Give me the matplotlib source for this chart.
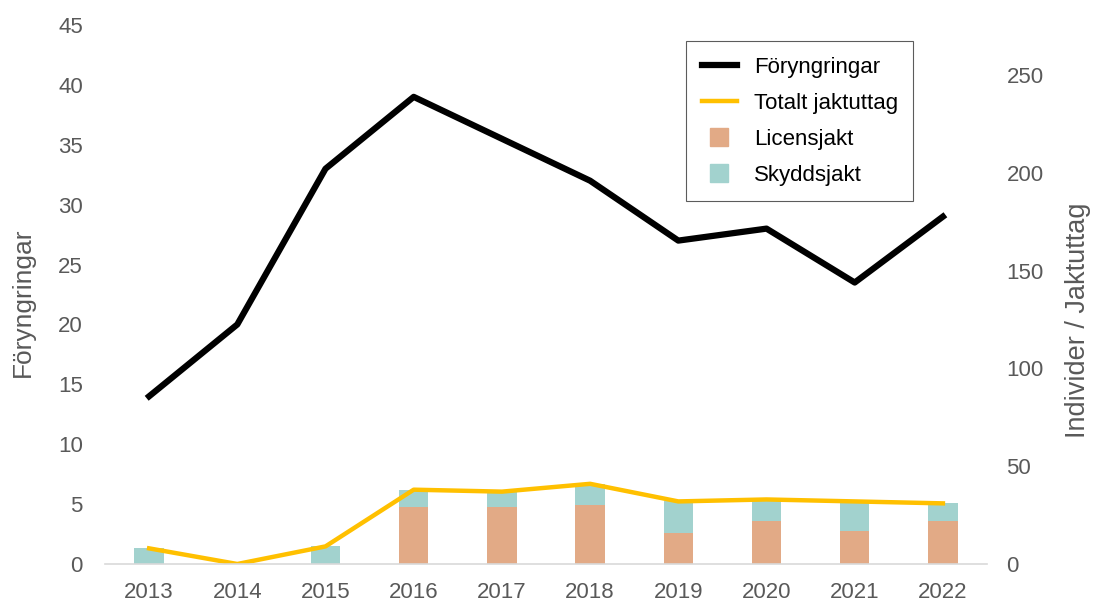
import numpy as np
import matplotlib.pyplot as plt
from matplotlib.lines import Line2D

plt.rcParams["font.family"] = ["Liberation Sans", "DejaVu Sans"]

years = ["2013", "2014", "2015", "2016", "2017", "2018", "2019", "2020", "2021", "2022"]
foryngringar = [14, 20, 33, 39, 35.5, 32, 27, 28, 23.5, 29]
totalt_jaktuttag = [8, 0, 9, 38, 37, 41, 32, 33, 32, 31]
licensjakt = [0, 0, 0, 29, 29, 30, 16, 22, 17, 22]
skyddsjakt = [8, 0, 9, 9, 8, 11, 16, 11, 15, 9]

GREY = "#595959"
BLACK = "#000000"
YELLOW = "#FFC000"
LICENS = "#E2AA86"
SKYDD = "#A2D2CE"

W, H = 1093, 603
fig = plt.figure(figsize=(W / 100, H / 100), dpi=100)
ax = fig.add_axes([105 / W, 1 - 564 / H, 882 / W, 539 / H])
ax2 = ax.twinx()

x = np.arange(len(years))

# ── Bars and total on the right axis ─────────────────────────────────────
ax2.bar(x, licensjakt, width=0.333, color=LICENS, zorder=1)
ax2.bar(x, skyddsjakt, width=0.333, bottom=licensjakt, color=SKYDD, zorder=1)
ax2.plot(x, totalt_jaktuttag, color=YELLOW, linewidth=3.2, zorder=3)

# ── Föryngringar on the left axis, drawn on top ──────────────────────────
ax.plot(x, foryngringar, color=BLACK, linewidth=4.5, zorder=4)
ax.set_zorder(ax2.get_zorder() + 1)
ax.patch.set_visible(False)

ax.set_xlim(-0.5, len(years) - 0.5)
ax.set_ylim(0, 45)
ax.set_yticks(np.arange(0, 46, 5))
ax2.set_ylim(0, 275.6)
ax2.set_yticks(np.arange(0, 251, 50))
ax.set_xticks(x)
ax.set_xticklabels(years)

for a in (ax, ax2):
    for s in a.spines.values():
        s.set_visible(False)
    a.tick_params(length=0, labelsize=16, colors=GREY)
ax.spines["bottom"].set_visible(True)
ax.spines["bottom"].set_color("#D9D9D9")
ax.spines["bottom"].set_linewidth(1.2)
ax.tick_params(axis="y", pad=16)
ax.tick_params(axis="x", pad=13)
ax2.tick_params(axis="y", pad=14)

fig.text(23 / W, 1 - 302 / H, "Föryngringar", fontsize=19, color=GREY,
         rotation=90, ha="center", va="center")
fig.text(1078 / W, 1 - 320 / H, "Individer / Jaktuttag", fontsize=19.5, color=GREY,
         rotation=90, ha="center", va="center")

handles = [
    Line2D([0], [0], color=BLACK, linewidth=4.5),
    Line2D([0], [0], color=YELLOW, linewidth=3.2),
    Line2D([0], [0], linestyle="none", marker="s", markersize=13,
           markerfacecolor=LICENS, markeredgecolor=LICENS),
    Line2D([0], [0], linestyle="none", marker="s", markersize=13,
           markerfacecolor=SKYDD, markeredgecolor=SKYDD),
]
labels = ["Föryngringar", "Totalt jaktuttag", "Licensjakt", "Skyddsjakt"]
leg = ax.legend(handles, labels, loc="upper left",
                bbox_to_anchor=((686 - 105) / 882, (564 - 41) / 539),
                borderaxespad=0, fontsize=16, frameon=True, fancybox=False,
                edgecolor="#333333", borderpad=0.7, labelspacing=0.68,
                handlelength=1.6, handletextpad=0.75)
leg.get_frame().set_linewidth(0.8)

fig.savefig("out.png", dpi=100)
